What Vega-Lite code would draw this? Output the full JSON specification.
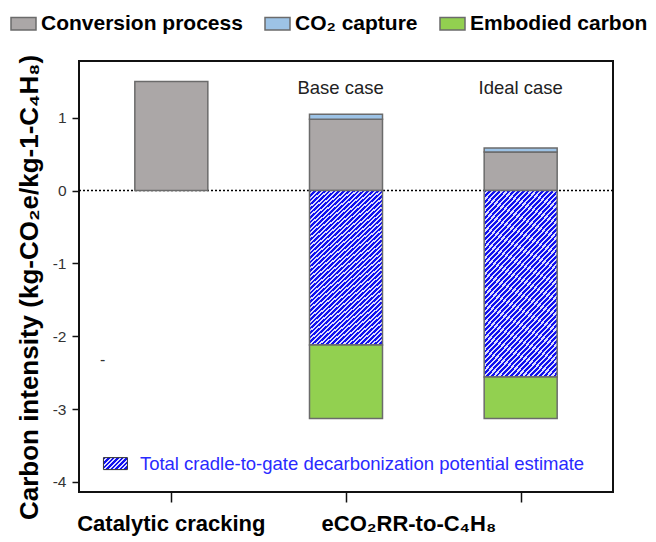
{
  "$schema": "https://vega.github.io/schema/vega-lite/v6.json",
  "width": 534,
  "height": 431,
  "autosize": {"type": "none"},
  "padding": {"left": 79, "top": 61, "right": 43, "bottom": 50},
  "background": "white",
  "config": {
    "font": "Liberation Sans",
    "view": {"stroke": "#111111", "strokeWidth": 2},
    "axis": {"grid": false, "domain": false}
  },
  "layer": [
    {
      "data": {"values": [{"y": 0}]},
      "mark": {"type": "rule", "strokeDash": [2, 2], "color": "black", "strokeWidth": 1.5},
      "encoding": {
        "y": {"field": "y", "type": "quantitative", "scale": {"domain": [-4.14, 1.78], "nice": false, "zero": false}}
      }
    },
    {
      "data": {
        "values": [
          {"x": 1, "component": "Conversion process", "value": 1.5, "order": 1},
          {"x": 2, "component": "Conversion process", "value": 0.98, "order": 1},
          {"x": 2, "component": "CO₂ capture", "value": 0.07, "order": 2},
          {"x": 2, "component": "Decarbonization", "value": -2.12, "order": 3},
          {"x": 2, "component": "Embodied carbon", "value": -1.01, "order": 4},
          {"x": 3, "component": "Conversion process", "value": 0.53, "order": 1},
          {"x": 3, "component": "CO₂ capture", "value": 0.055, "order": 2},
          {"x": 3, "component": "Decarbonization", "value": -2.56, "order": 3},
          {"x": 3, "component": "Embodied carbon", "value": -0.57, "order": 4}
        ]
      },
      "mark": {"type": "bar", "width": 73, "stroke": "#6b6b6b", "strokeWidth": 1.5},
      "encoding": {
        "x": {
          "field": "x", "type": "quantitative",
          "scale": {"domain": [0.5, 3.5], "nice": false, "zero": false},
          "axis": {
            "values": [1, 2, 3], "tickSize": 10, "tickWidth": 1.5, "tickColor": "#111111",
            "labels": false, "title": null
          }
        },
        "y": {
          "field": "value", "type": "quantitative", "stack": "zero",
          "scale": {"domain": [-4.14, 1.78], "nice": false, "zero": false},
          "axis": {
            "values": [-4, -3, -2, -1, 0, 1], "labelExpr": "'' + datum.value",
            "tickSize": 7, "tickWidth": 1.5, "tickColor": "#111111",
            "labelFontSize": 15.5, "labelColor": "#333333", "labelPadding": 6,
            "title": "Carbon intensity (kg-CO₂e/kg-1-C₄H₈)", "titleFontSize": 26, "titleFontWeight": "bold",
            "titleColor": "black", "titleX": -50, "titleY": 226, "titleAngle": -90, "titleAlign": "center", "titleBaseline": "middle"
          }
        },
        "order": {"field": "order", "type": "quantitative"},
        "color": {
          "condition": {
            "test": "datum.component === 'Decarbonization'",
            "value": {
              "gradient": "linear", "x1": 0, "y1": 0, "x2": 0.5246, "y2": 1.2066,
              "stops": [
                {"offset":0,"color":"#1010ee"},{"offset":0.011,"color":"#1010ee"},{"offset":0.011,"color":"#dcdcff"},{"offset":0.02,"color":"#dcdcff"},
                {"offset":0.02,"color":"#1010ee"},{"offset":0.031,"color":"#1010ee"},{"offset":0.031,"color":"#dcdcff"},{"offset":0.04,"color":"#dcdcff"},
                {"offset":0.04,"color":"#1010ee"},{"offset":0.051,"color":"#1010ee"},{"offset":0.051,"color":"#dcdcff"},{"offset":0.06,"color":"#dcdcff"},
                {"offset":0.06,"color":"#1010ee"},{"offset":0.071,"color":"#1010ee"},{"offset":0.071,"color":"#dcdcff"},{"offset":0.08,"color":"#dcdcff"},
                {"offset":0.08,"color":"#1010ee"},{"offset":0.091,"color":"#1010ee"},{"offset":0.091,"color":"#dcdcff"},{"offset":0.1,"color":"#dcdcff"},
                {"offset":0.1,"color":"#1010ee"},{"offset":0.111,"color":"#1010ee"},{"offset":0.111,"color":"#dcdcff"},{"offset":0.12,"color":"#dcdcff"},
                {"offset":0.12,"color":"#1010ee"},{"offset":0.131,"color":"#1010ee"},{"offset":0.131,"color":"#dcdcff"},{"offset":0.14,"color":"#dcdcff"},
                {"offset":0.14,"color":"#1010ee"},{"offset":0.151,"color":"#1010ee"},{"offset":0.151,"color":"#dcdcff"},{"offset":0.16,"color":"#dcdcff"},
                {"offset":0.16,"color":"#1010ee"},{"offset":0.171,"color":"#1010ee"},{"offset":0.171,"color":"#dcdcff"},{"offset":0.18,"color":"#dcdcff"},
                {"offset":0.18,"color":"#1010ee"},{"offset":0.191,"color":"#1010ee"},{"offset":0.191,"color":"#dcdcff"},{"offset":0.2,"color":"#dcdcff"},
                {"offset":0.2,"color":"#1010ee"},{"offset":0.211,"color":"#1010ee"},{"offset":0.211,"color":"#dcdcff"},{"offset":0.22,"color":"#dcdcff"},
                {"offset":0.22,"color":"#1010ee"},{"offset":0.231,"color":"#1010ee"},{"offset":0.231,"color":"#dcdcff"},{"offset":0.24,"color":"#dcdcff"},
                {"offset":0.24,"color":"#1010ee"},{"offset":0.251,"color":"#1010ee"},{"offset":0.251,"color":"#dcdcff"},{"offset":0.26,"color":"#dcdcff"},
                {"offset":0.26,"color":"#1010ee"},{"offset":0.271,"color":"#1010ee"},{"offset":0.271,"color":"#dcdcff"},{"offset":0.28,"color":"#dcdcff"},
                {"offset":0.28,"color":"#1010ee"},{"offset":0.291,"color":"#1010ee"},{"offset":0.291,"color":"#dcdcff"},{"offset":0.3,"color":"#dcdcff"},
                {"offset":0.3,"color":"#1010ee"},{"offset":0.311,"color":"#1010ee"},{"offset":0.311,"color":"#dcdcff"},{"offset":0.32,"color":"#dcdcff"},
                {"offset":0.32,"color":"#1010ee"},{"offset":0.331,"color":"#1010ee"},{"offset":0.331,"color":"#dcdcff"},{"offset":0.34,"color":"#dcdcff"},
                {"offset":0.34,"color":"#1010ee"},{"offset":0.351,"color":"#1010ee"},{"offset":0.351,"color":"#dcdcff"},{"offset":0.36,"color":"#dcdcff"},
                {"offset":0.36,"color":"#1010ee"},{"offset":0.371,"color":"#1010ee"},{"offset":0.371,"color":"#dcdcff"},{"offset":0.38,"color":"#dcdcff"},
                {"offset":0.38,"color":"#1010ee"},{"offset":0.391,"color":"#1010ee"},{"offset":0.391,"color":"#dcdcff"},{"offset":0.4,"color":"#dcdcff"},
                {"offset":0.4,"color":"#1010ee"},{"offset":0.411,"color":"#1010ee"},{"offset":0.411,"color":"#dcdcff"},{"offset":0.42,"color":"#dcdcff"},
                {"offset":0.42,"color":"#1010ee"},{"offset":0.431,"color":"#1010ee"},{"offset":0.431,"color":"#dcdcff"},{"offset":0.44,"color":"#dcdcff"},
                {"offset":0.44,"color":"#1010ee"},{"offset":0.451,"color":"#1010ee"},{"offset":0.451,"color":"#dcdcff"},{"offset":0.46,"color":"#dcdcff"},
                {"offset":0.46,"color":"#1010ee"},{"offset":0.471,"color":"#1010ee"},{"offset":0.471,"color":"#dcdcff"},{"offset":0.48,"color":"#dcdcff"},
                {"offset":0.48,"color":"#1010ee"},{"offset":0.491,"color":"#1010ee"},{"offset":0.491,"color":"#dcdcff"},{"offset":0.5,"color":"#dcdcff"},
                {"offset":0.5,"color":"#1010ee"},{"offset":0.511,"color":"#1010ee"},{"offset":0.511,"color":"#dcdcff"},{"offset":0.52,"color":"#dcdcff"},
                {"offset":0.52,"color":"#1010ee"},{"offset":0.531,"color":"#1010ee"},{"offset":0.531,"color":"#dcdcff"},{"offset":0.54,"color":"#dcdcff"},
                {"offset":0.54,"color":"#1010ee"},{"offset":0.551,"color":"#1010ee"},{"offset":0.551,"color":"#dcdcff"},{"offset":0.56,"color":"#dcdcff"},
                {"offset":0.56,"color":"#1010ee"},{"offset":0.571,"color":"#1010ee"},{"offset":0.571,"color":"#dcdcff"},{"offset":0.58,"color":"#dcdcff"},
                {"offset":0.58,"color":"#1010ee"},{"offset":0.591,"color":"#1010ee"},{"offset":0.591,"color":"#dcdcff"},{"offset":0.6,"color":"#dcdcff"},
                {"offset":0.6,"color":"#1010ee"},{"offset":0.611,"color":"#1010ee"},{"offset":0.611,"color":"#dcdcff"},{"offset":0.62,"color":"#dcdcff"},
                {"offset":0.62,"color":"#1010ee"},{"offset":0.631,"color":"#1010ee"},{"offset":0.631,"color":"#dcdcff"},{"offset":0.64,"color":"#dcdcff"},
                {"offset":0.64,"color":"#1010ee"},{"offset":0.651,"color":"#1010ee"},{"offset":0.651,"color":"#dcdcff"},{"offset":0.66,"color":"#dcdcff"},
                {"offset":0.66,"color":"#1010ee"},{"offset":0.671,"color":"#1010ee"},{"offset":0.671,"color":"#dcdcff"},{"offset":0.68,"color":"#dcdcff"},
                {"offset":0.68,"color":"#1010ee"},{"offset":0.691,"color":"#1010ee"},{"offset":0.691,"color":"#dcdcff"},{"offset":0.7,"color":"#dcdcff"},
                {"offset":0.7,"color":"#1010ee"},{"offset":0.711,"color":"#1010ee"},{"offset":0.711,"color":"#dcdcff"},{"offset":0.72,"color":"#dcdcff"},
                {"offset":0.72,"color":"#1010ee"},{"offset":0.731,"color":"#1010ee"},{"offset":0.731,"color":"#dcdcff"},{"offset":0.74,"color":"#dcdcff"},
                {"offset":0.74,"color":"#1010ee"},{"offset":0.751,"color":"#1010ee"},{"offset":0.751,"color":"#dcdcff"},{"offset":0.76,"color":"#dcdcff"},
                {"offset":0.76,"color":"#1010ee"},{"offset":0.771,"color":"#1010ee"},{"offset":0.771,"color":"#dcdcff"},{"offset":0.78,"color":"#dcdcff"},
                {"offset":0.78,"color":"#1010ee"},{"offset":0.791,"color":"#1010ee"},{"offset":0.791,"color":"#dcdcff"},{"offset":0.8,"color":"#dcdcff"},
                {"offset":0.8,"color":"#1010ee"},{"offset":0.811,"color":"#1010ee"},{"offset":0.811,"color":"#dcdcff"},{"offset":0.82,"color":"#dcdcff"},
                {"offset":0.82,"color":"#1010ee"},{"offset":0.831,"color":"#1010ee"},{"offset":0.831,"color":"#dcdcff"},{"offset":0.84,"color":"#dcdcff"},
                {"offset":0.84,"color":"#1010ee"},{"offset":0.851,"color":"#1010ee"},{"offset":0.851,"color":"#dcdcff"},{"offset":0.86,"color":"#dcdcff"},
                {"offset":0.86,"color":"#1010ee"},{"offset":0.871,"color":"#1010ee"},{"offset":0.871,"color":"#dcdcff"},{"offset":0.88,"color":"#dcdcff"},
                {"offset":0.88,"color":"#1010ee"},{"offset":0.891,"color":"#1010ee"},{"offset":0.891,"color":"#dcdcff"},{"offset":0.9,"color":"#dcdcff"},
                {"offset":0.9,"color":"#1010ee"},{"offset":0.911,"color":"#1010ee"},{"offset":0.911,"color":"#dcdcff"},{"offset":0.92,"color":"#dcdcff"},
                {"offset":0.92,"color":"#1010ee"},{"offset":0.931,"color":"#1010ee"},{"offset":0.931,"color":"#dcdcff"},{"offset":0.94,"color":"#dcdcff"},
                {"offset":0.94,"color":"#1010ee"},{"offset":0.951,"color":"#1010ee"},{"offset":0.951,"color":"#dcdcff"},{"offset":0.96,"color":"#dcdcff"},
                {"offset":0.96,"color":"#1010ee"},{"offset":0.971,"color":"#1010ee"},{"offset":0.971,"color":"#dcdcff"},{"offset":0.98,"color":"#dcdcff"},
                {"offset":0.98,"color":"#1010ee"},{"offset":0.991,"color":"#1010ee"},{"offset":0.991,"color":"#dcdcff"},{"offset":1,"color":"#dcdcff"}
              ]
            }
          },
          "field": "component", "type": "nominal",
          "scale": {
            "domain": ["Conversion process", "CO₂ capture", "Embodied carbon", "Decarbonization"],
            "range": ["#aba7a7", "#9dc3e6", "#92d050", "#4b4bf5"]
          },
          "legend": {
            "orient": "none", "legendX": -69, "legendY": -51, "direction": "horizontal", "title": null,
            "values": ["Conversion process", "CO₂ capture", "Embodied carbon"],
            "symbolType": "M-1,-0.5H1V0.5H-1Z", "symbolSize": 625, "symbolStrokeColor": "#6b6b6b",
            "symbolStrokeWidth": 1.5, "symbolOpacity": 1, "labelFontSize": 21, "labelFontWeight": "bold",
            "labelColor": "black", "labelOffset": 4, "columnPadding": 19, "labelLimit": 0, "padding": 0
          }
        }
      }
    },
    {
      "data": {"values": [{"x": 1.969, "y": 1.406, "label": "Base case"}, {"x": 3.0, "y": 1.406, "label": "Ideal case"}]},
      "mark": {"type": "text", "fontSize": 18.5, "color": "#222222", "align": "center", "baseline": "middle"},
      "encoding": {
        "x": {"field": "x", "type": "quantitative", "scale": {"domain": [0.5, 3.5], "nice": false, "zero": false}},
        "y": {"field": "y", "type": "quantitative", "scale": {"domain": [-4.14, 1.78], "nice": false, "zero": false}},
        "text": {"field": "label"}
      }
    },
    {
      "data": {"values": [{"x": 1.0, "y": -4.58, "label": "Catalytic cracking"}, {"x": 2.36, "y": -4.58, "label": "eCO₂RR-to-C₄H₈"}]},
      "mark": {"type": "text", "fontSize": 22, "fontWeight": "bold", "color": "black", "align": "center", "baseline": "middle"},
      "encoding": {
        "x": {"field": "x", "type": "quantitative", "scale": {"domain": [0.5, 3.5], "nice": false, "zero": false}},
        "y": {"field": "y", "type": "quantitative", "scale": {"domain": [-4.14, 1.78], "nice": false, "zero": false}},
        "text": {"field": "label"}
      }
    },
    {
      "data": {"values": [{"x": 0.607, "y": -2.33, "label": "-"}]},
      "mark": {"type": "text", "fontSize": 16, "color": "#333333", "align": "center", "baseline": "middle"},
      "encoding": {
        "x": {"field": "x", "type": "quantitative", "scale": {"domain": [0.5, 3.5], "nice": false, "zero": false}},
        "y": {"field": "y", "type": "quantitative", "scale": {"domain": [-4.14, 1.78], "nice": false, "zero": false}},
        "text": {"field": "label"}
      }
    },
    {
      "data": {"values": [{"x": 0.68, "y": -3.75, "label": "swatch"}]},
      "mark": {
        "type": "point", "shape": "M-1,-0.5H1V0.5H-1Z", "size": 576, "filled": true, "opacity": 1,
        "stroke": "#333333", "strokeWidth": 1,
        "fill": {
          "gradient": "linear", "x1": 0, "y1": 0, "x2": 1.2, "y2": 0.6,
          "stops": [
            {"offset":0,"color":"#1010ee"},{"offset":0.069,"color":"#1010ee"},{"offset":0.069,"color":"#dcdcff"},{"offset":0.125,"color":"#dcdcff"},
            {"offset":0.125,"color":"#1010ee"},{"offset":0.194,"color":"#1010ee"},{"offset":0.194,"color":"#dcdcff"},{"offset":0.25,"color":"#dcdcff"},
            {"offset":0.25,"color":"#1010ee"},{"offset":0.319,"color":"#1010ee"},{"offset":0.319,"color":"#dcdcff"},{"offset":0.375,"color":"#dcdcff"},
            {"offset":0.375,"color":"#1010ee"},{"offset":0.444,"color":"#1010ee"},{"offset":0.444,"color":"#dcdcff"},{"offset":0.5,"color":"#dcdcff"},
            {"offset":0.5,"color":"#1010ee"},{"offset":0.569,"color":"#1010ee"},{"offset":0.569,"color":"#dcdcff"},{"offset":0.625,"color":"#dcdcff"},
            {"offset":0.625,"color":"#1010ee"},{"offset":0.694,"color":"#1010ee"},{"offset":0.694,"color":"#dcdcff"},{"offset":0.75,"color":"#dcdcff"},
            {"offset":0.75,"color":"#1010ee"},{"offset":0.819,"color":"#1010ee"},{"offset":0.819,"color":"#dcdcff"},{"offset":0.875,"color":"#dcdcff"},
            {"offset":0.875,"color":"#1010ee"},{"offset":0.944,"color":"#1010ee"},{"offset":0.944,"color":"#dcdcff"},{"offset":1,"color":"#dcdcff"}
          ]
        }
      },
      "encoding": {
        "x": {"field": "x", "type": "quantitative", "scale": {"domain": [0.5, 3.5], "nice": false, "zero": false}},
        "y": {"field": "y", "type": "quantitative", "scale": {"domain": [-4.14, 1.78], "nice": false, "zero": false}}
      }
    },
    {
      "data": {"values": [{"x": 0.82, "y": -3.75, "label": "Total cradle-to-gate decarbonization potential estimate"}]},
      "mark": {"type": "text", "fontSize": 18.5, "color": "#2a2aff", "align": "left", "baseline": "middle"},
      "encoding": {
        "x": {"field": "x", "type": "quantitative", "scale": {"domain": [0.5, 3.5], "nice": false, "zero": false}},
        "y": {"field": "y", "type": "quantitative", "scale": {"domain": [-4.14, 1.78], "nice": false, "zero": false}},
        "text": {"field": "label"}
      }
    }
  ]
}
